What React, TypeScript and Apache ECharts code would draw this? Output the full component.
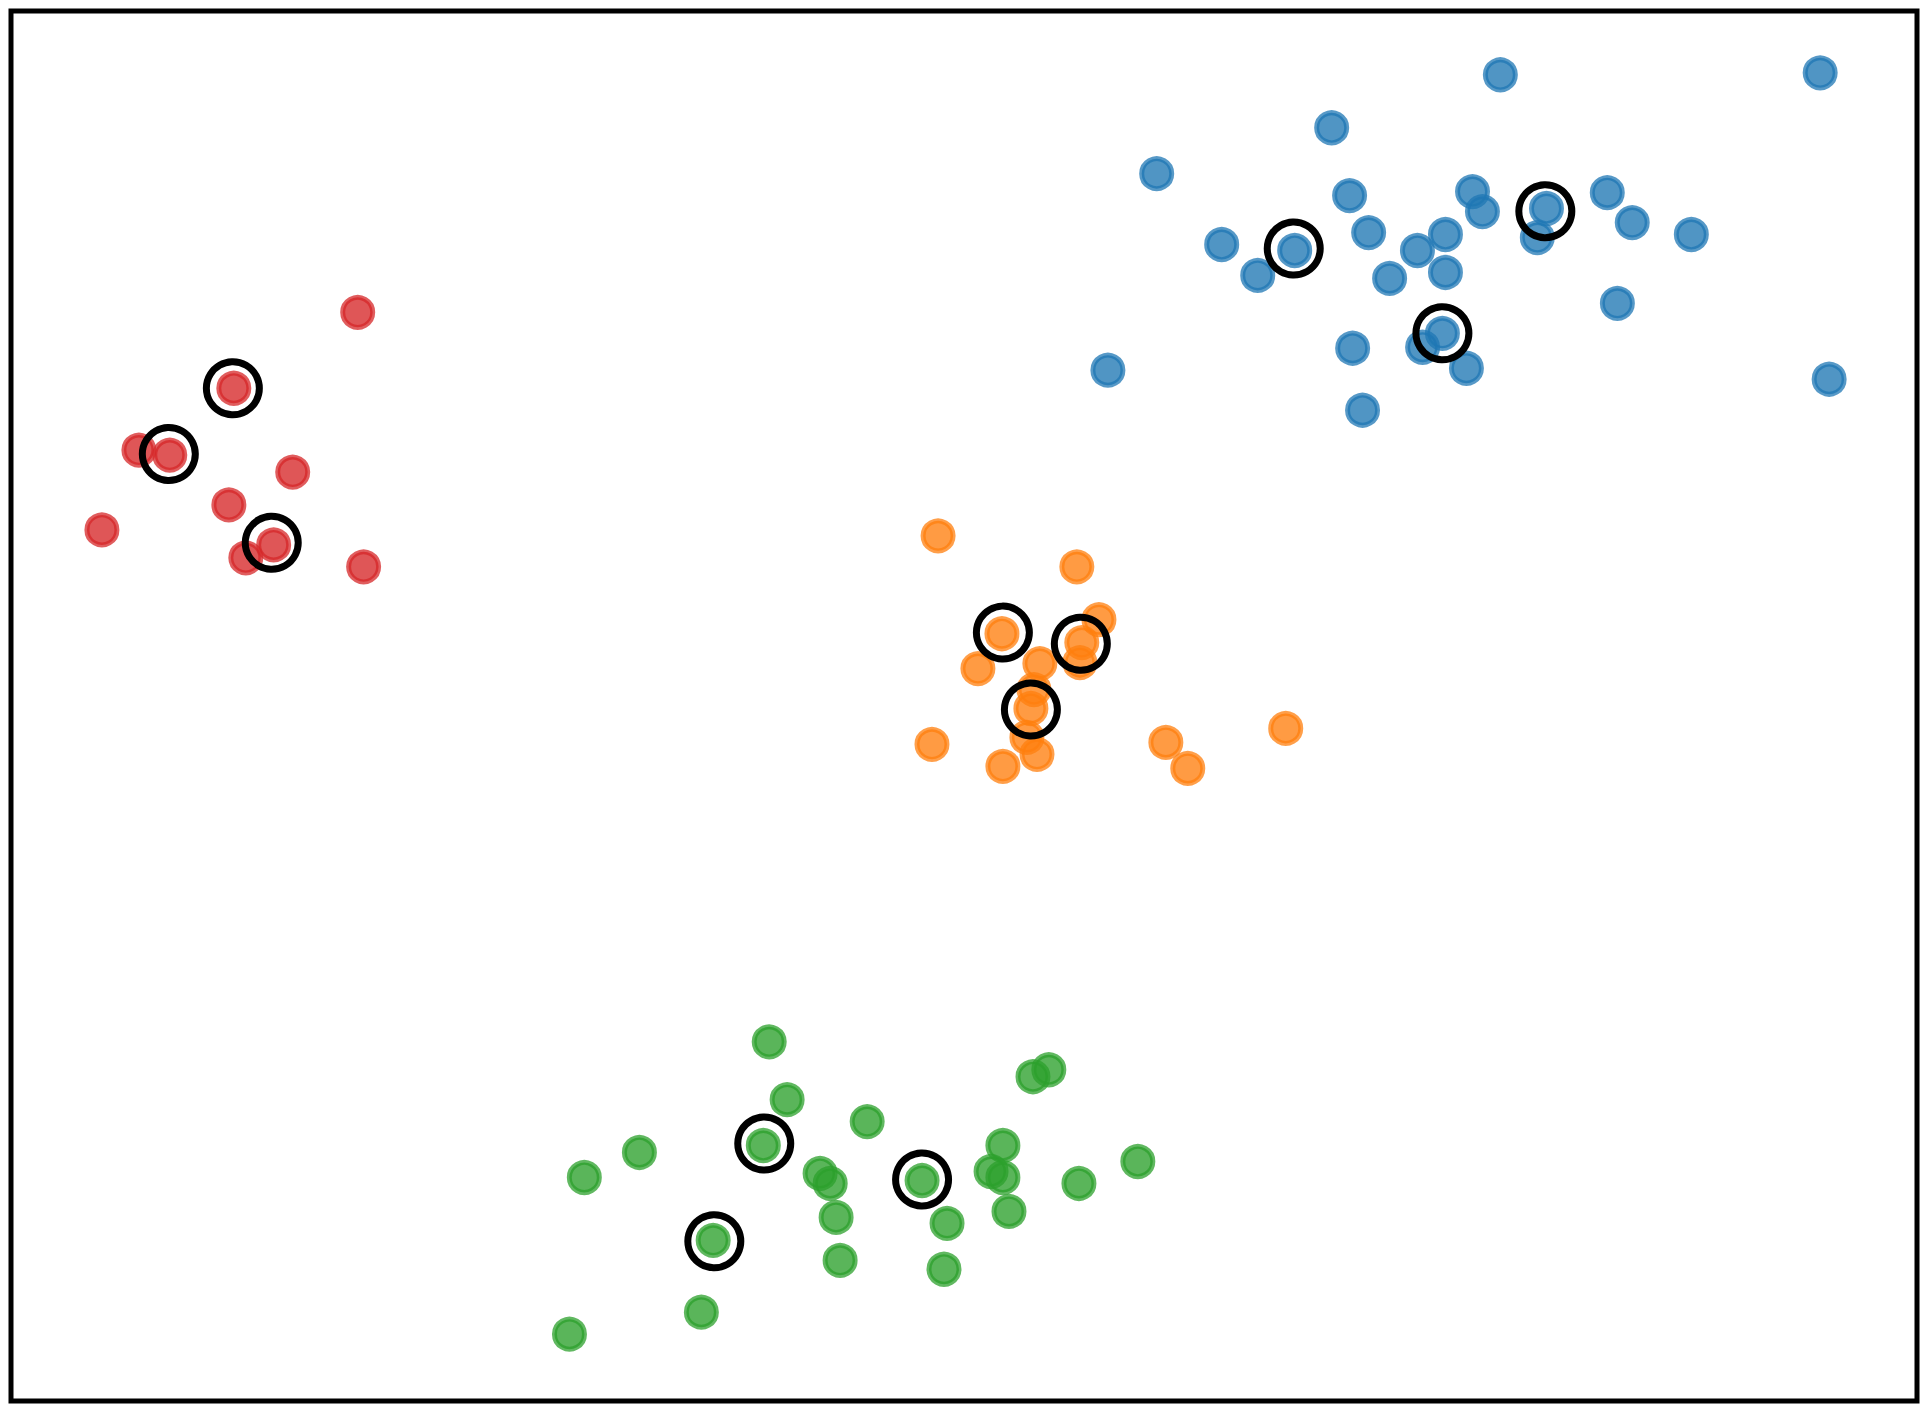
import React, { useEffect, useRef } from "react";
import * as echarts from "echarts";

// Data in arbitrary units (x: 0-100 across the frame, y: 0-100 bottom to top)
const redPoints: number[][] = [
  [18.19, 78.32], [11.69, 72.86], [6.71, 68.41], [8.33, 68.05], [14.78, 66.83],
  [11.43, 64.47], [4.77, 62.67], [12.32, 60.66], [13.78, 61.59], [18.5, 60.01],
];
const bluePoints: number[][] = [
  [69.29, 91.6], [60.11, 88.3], [70.23, 86.72], [76.68, 87.01], [77.2, 85.57],
  [71.23, 84.06], [63.52, 83.2], [67.35, 82.77], [75.26, 83.92], [73.79, 82.77],
  [65.41, 80.98], [72.33, 80.76], [75.26, 81.19], [75.1, 76.81], [74.06, 75.81],
  [70.39, 75.74], [76.36, 74.3], [70.91, 71.28], [57.55, 74.16], [78.14, 95.41],
  [94.92, 95.55], [80.56, 85.79], [80.08, 83.7], [83.75, 86.93], [85.06, 84.78],
  [88.16, 83.92], [84.28, 78.97], [95.39, 73.51],
];
const orangePoints: number[][] = [
  [48.64, 62.24], [55.92, 60.01], [57.08, 56.21], [51.99, 55.2], [56.18, 54.56],
  [56.08, 53.12], [50.73, 52.69], [53.98, 53.05], [53.67, 51.18], [53.51, 49.82],
  [53.3, 47.74], [53.83, 46.52], [48.32, 47.24], [52.04, 45.66], [60.59, 47.38],
  [61.74, 45.51], [66.88, 48.39],
];
const greenPoints: number[][] = [
  [39.78, 25.84], [40.72, 21.68], [44.92, 20.1], [39.47, 18.38], [32.97, 17.88],
  [30.08, 16.08], [42.45, 16.37], [42.98, 15.65], [43.29, 13.21], [43.5, 10.12],
  [36.84, 11.56], [36.22, 6.39], [29.3, 4.81], [53.62, 23.33], [54.45, 23.83],
  [47.8, 15.86], [49.11, 12.78], [48.95, 9.48], [52.04, 18.38], [51.42, 16.51],
  [52.04, 16.08], [52.36, 13.64], [56.03, 15.65], [59.12, 17.23],
];
const highlighted: number[][] = [
  [11.64, 72.86], [8.28, 68.13], [13.68, 61.74],
  [67.3, 82.91], [75.1, 76.81], [80.5, 85.6],
  [52.04, 55.28], [56.13, 54.48], [53.51, 49.75],
  [39.52, 18.52], [36.9, 11.49], [47.8, 15.94],
];

const groups = [
  { name: "blue", data: bluePoints, color: "31,119,180" },
  { name: "orange", data: orangePoints, color: "255,127,14" },
  { name: "green", data: greenPoints, color: "44,160,44" },
  { name: "red", data: redPoints, color: "214,39,40" },
];

export default function App() {
  const ref = useRef<HTMLDivElement>(null);
  useEffect(() => {
    if (!ref.current) return;
    const chart = echarts.init(ref.current, null, { renderer: "svg" });
    chart.setOption({
      animation: false,
      backgroundColor: "#ffffff",
      grid: {
        show: true,
        left: 11,
        top: 11,
        width: 1906,
        height: 1390,
        borderColor: "#000000",
        borderWidth: 5,
        backgroundColor: "transparent",
      },
      xAxis: { type: "value", min: 0, max: 100, show: false },
      yAxis: { type: "value", min: 0, max: 100, show: false },
      series: [
        ...groups.map((g) => ({
          type: "scatter",
          name: g.name,
          data: g.data,
          symbol: "circle",
          symbolSize: 30,
          itemStyle: {
            color: `rgba(${g.color},0.78)`,
            borderColor: `rgba(${g.color},0.75)`,
            borderWidth: 5,
            opacity: 1,
          },
          emphasis: { disabled: true },
        })),
        {
          type: "scatter",
          name: "highlighted",
          data: highlighted,
          symbol: "circle",
          symbolSize: 53,
          itemStyle: {
            color: "rgba(0,0,0,0)",
            borderColor: "#000000",
            borderWidth: 7,
            opacity: 1,
          },
          emphasis: { disabled: true },
          z: 5,
        },
      ],
    });
    return () => chart.dispose();
  }, []);
  return (
    <div
      ref={ref}
      style={{ position: "fixed", left: 0, top: 0, width: 1925, height: 1413, background: "#fff" }}
    />
  );
}
